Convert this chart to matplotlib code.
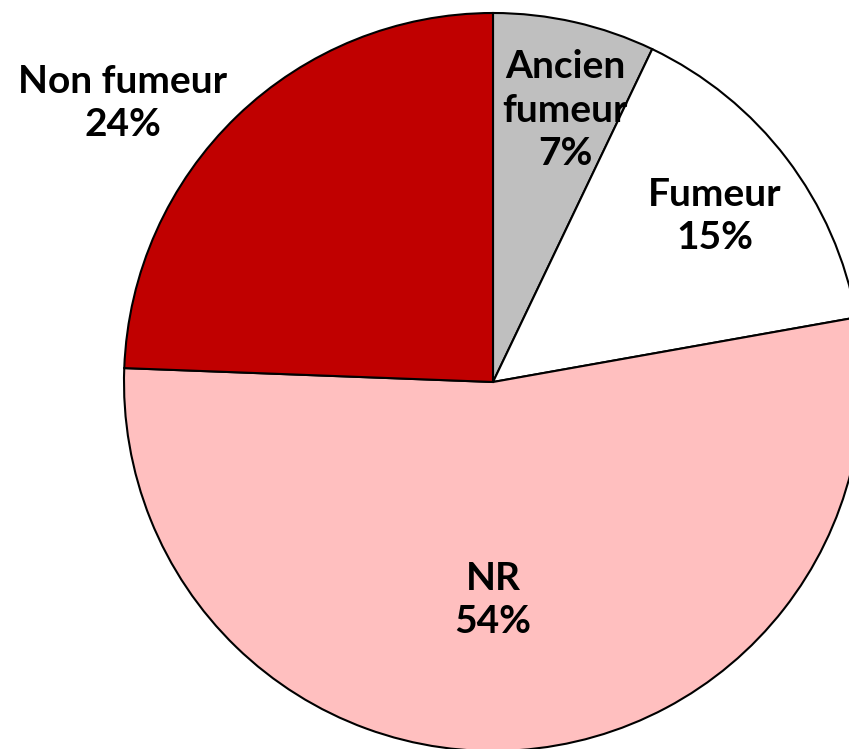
import matplotlib.pyplot as plt

labels = ['Ancien\nfumeur', 'Fumeur', 'NR', 'Non fumeur']
values = [7.1, 15.1, 53.4, 24.4]
pct_labels = ['7%', '15%', '54%', '24%']
colors = ['#BFBFBF', '#FFFFFF', '#FFBFBF', '#C00000']

# label positions, offset from the pie centre in pixels (x right, y up)
label_offsets = [(72, 272), (222, 166), (0, -218), (-370, 279)]

fig = plt.figure(figsize=(8.49, 7.49), dpi=100)
ax = fig.add_axes([0, 0, 1, 1])

cx, cy, r = 493, 749 - 382, 369
ax.pie(values, colors=colors, startangle=90, counterclock=False,
       center=(cx, cy), radius=r,
       wedgeprops=dict(edgecolor='black', linewidth=1.5))

for lab, pct, (dx, dy) in zip(labels, pct_labels, label_offsets):
    ax.text(cx + dx, cy + dy, f'{lab}\n{pct}', ha='center', va='center',
            fontsize=28, fontweight='bold', family='Lato', linespacing=1.3)

ax.set_xlim(0, 849)
ax.set_ylim(0, 749)
ax.set_aspect('equal')
ax.axis('off')

fig.savefig('out.png', dpi=100)
